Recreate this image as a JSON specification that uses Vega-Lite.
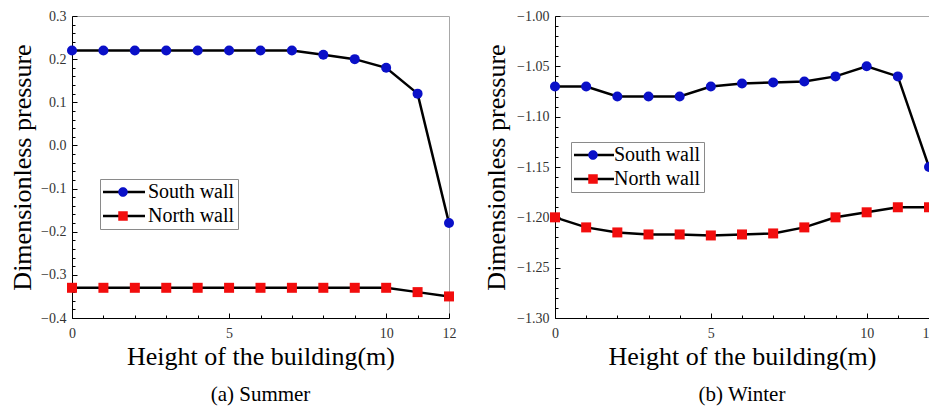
{
  "$schema": "https://vega.github.io/schema/vega-lite/v6.json",
  "padding": {"left": 8, "top": 8, "right": 0, "bottom": 0},
  "spacing": 25,
  "resolve": {
    "scale": {"color": "independent", "fill": "independent", "shape": "independent"},
    "legend": {"color": "independent", "fill": "independent", "shape": "independent"}
  },
  "config": {
    "view": {"stroke": "#a8a8a8", "strokeWidth": 1},
    "font": "Liberation Serif",
    "axis": {
      "grid": false,
      "domainColor": "black",
      "domainWidth": 1,
      "tickColor": "black",
      "tickWidth": 1,
      "labelFont": "Liberation Serif",
      "labelFontSize": 14,
      "labelColor": "#333333",
      "titleFont": "Liberation Serif",
      "titleFontSize": 26,
      "titleFontWeight": "normal",
      "titleColor": "black"
    }
  },
  "hconcat": [
    {
      "width": 377,
      "height": 302,
      "title": {"text": "(a) Summer", "orient": "bottom", "fontSize": 21, "fontWeight": "normal", "font": "Liberation Serif", "color": "black", "offset": 15},
      "data": {"values": [
        {"h": 0, "p": 0.22, "wall": "South wall"},
        {"h": 1, "p": 0.22, "wall": "South wall"},
        {"h": 2, "p": 0.22, "wall": "South wall"},
        {"h": 3, "p": 0.22, "wall": "South wall"},
        {"h": 4, "p": 0.22, "wall": "South wall"},
        {"h": 5, "p": 0.22, "wall": "South wall"},
        {"h": 6, "p": 0.22, "wall": "South wall"},
        {"h": 7, "p": 0.22, "wall": "South wall"},
        {"h": 8, "p": 0.21, "wall": "South wall"},
        {"h": 9, "p": 0.20, "wall": "South wall"},
        {"h": 10, "p": 0.18, "wall": "South wall"},
        {"h": 11, "p": 0.12, "wall": "South wall"},
        {"h": 12, "p": -0.18, "wall": "South wall"},
        {"h": 0, "p": -0.33, "wall": "North wall"},
        {"h": 1, "p": -0.33, "wall": "North wall"},
        {"h": 2, "p": -0.33, "wall": "North wall"},
        {"h": 3, "p": -0.33, "wall": "North wall"},
        {"h": 4, "p": -0.33, "wall": "North wall"},
        {"h": 5, "p": -0.33, "wall": "North wall"},
        {"h": 6, "p": -0.33, "wall": "North wall"},
        {"h": 7, "p": -0.33, "wall": "North wall"},
        {"h": 8, "p": -0.33, "wall": "North wall"},
        {"h": 9, "p": -0.33, "wall": "North wall"},
        {"h": 10, "p": -0.33, "wall": "North wall"},
        {"h": 11, "p": -0.34, "wall": "North wall"},
        {"h": 12, "p": -0.35, "wall": "North wall"}
      ]},
      "encoding": {
        "x": {
          "field": "h", "type": "quantitative",
          "scale": {"domain": [0, 12], "nice": false, "zero": false},
          "axis": {
            "title": "Height of the building(m)",
            "values": [0, 1, 2, 3, 4, 5, 6, 7, 8, 9, 10, 11, 12],
            "labelExpr": "(datum.value % 5 === 0 || datum.value === 12) ? datum.label : ''",
            "tickSize": {"condition": {"test": "datum.value % 5 === 0 || datum.value === 12", "value": -5}, "value": -3},
            "labelPadding": 13,
            "labelFlush": false,
            "minExtent": 20, "maxExtent": 20,
            "titlePadding": 5
          }
        },
        "y": {
          "field": "p", "type": "quantitative",
          "scale": {"domain": [-0.4, 0.3], "nice": false, "zero": false},
          "axis": {
            "title": "Dimensionless pressure",
            "format": ".1f",
            "values": [-0.4, -0.38, -0.36, -0.34, -0.32, -0.3, -0.28, -0.26, -0.24, -0.22, -0.2, -0.18, -0.16, -0.14, -0.12, -0.1, -0.08, -0.06, -0.04, -0.02, 0, 0.02, 0.04, 0.06, 0.08, 0.1, 0.12, 0.14, 0.16, 0.18, 0.2, 0.22, 0.24, 0.26, 0.28, 0.3],
            "labelExpr": "abs(datum.value * 10 - round(datum.value * 10)) < 1e-6 ? datum.label : ''",
            "tickSize": {"condition": {"test": "abs(datum.value * 10 - round(datum.value * 10)) < 1e-6", "value": -5}, "value": -3},
            "labelPadding": 11,
            "labelFlush": false,
            "minExtent": 32, "maxExtent": 32,
            "titlePadding": 5
          }
        }
      },
      "layer": [
        {
          "mark": {"type": "line", "strokeWidth": 2.5},
          "encoding": {
            "color": {
              "field": "wall", "type": "nominal",
              "scale": {"domain": ["South wall", "North wall"], "range": ["black", "black"]},
              "legend": {
                "orient": "none", "legendX": 28, "legendY": 163, "direction": "vertical",
                "title": null, "padding": 3, "rowPadding": 4,
                "fillColor": "white", "strokeColor": "#8a8a8a",
                "symbolType": "M-2,0H6.4", "symbolSize": 100, "symbolStrokeWidth": 2.5, "symbolStrokeColor": "black",
                "labelFont": "Liberation Serif", "labelFontSize": 20, "labelColor": "black", "labelOffset": 25
              }
            }
          }
        },
        {
          "mark": {"type": "point", "filled": true, "opacity": 1, "size": 100},
          "encoding": {
            "fill": {
              "field": "wall", "type": "nominal", "sort": ["South wall", "North wall"],
              "scale": {"range": ["#0a10c8", "#f20d0d"]},
              "legend": {
                "orient": "none", "legendX": 28, "legendY": 163, "direction": "vertical",
                "title": null, "padding": 3, "rowPadding": 4,
                "symbolSize": 100, "symbolStrokeWidth": 0, "symbolStrokeColor": "transparent", "symbolOpacity": 1,
                "labelFont": "Liberation Serif", "labelFontSize": 20, "labelColor": "transparent", "labelOffset": 25,
                "encode": {"symbols": {"update": {"shape": {"signal": "datum.value === 'South wall' ? 'M-2,0H6.4M1.05,0A0.95,0.95 0 1,0 2.95,0A0.95,0.95 0 1,0 1.05,0Z' : 'M-2,0H6.4M1.05,-0.95H2.95V0.95H1.05Z'"}}}}
              }
            },
            "shape": {
              "field": "wall", "type": "nominal", "sort": ["South wall", "North wall"],
              "scale": {"range": ["circle", "square"]},
              "legend": null
            }
          }
        }
      ]
    },
    {
      "width": 374,
      "height": 302,
      "title": {"text": "(b) Winter", "orient": "bottom", "fontSize": 21, "fontWeight": "normal", "font": "Liberation Serif", "color": "black", "offset": 15},
      "data": {"values": [
        {"h": 0, "p": -1.07, "wall": "South wall"},
        {"h": 1, "p": -1.07, "wall": "South wall"},
        {"h": 2, "p": -1.08, "wall": "South wall"},
        {"h": 3, "p": -1.08, "wall": "South wall"},
        {"h": 4, "p": -1.08, "wall": "South wall"},
        {"h": 5, "p": -1.07, "wall": "South wall"},
        {"h": 6, "p": -1.067, "wall": "South wall"},
        {"h": 7, "p": -1.066, "wall": "South wall"},
        {"h": 8, "p": -1.065, "wall": "South wall"},
        {"h": 9, "p": -1.06, "wall": "South wall"},
        {"h": 10, "p": -1.05, "wall": "South wall"},
        {"h": 11, "p": -1.06, "wall": "South wall"},
        {"h": 12, "p": -1.15, "wall": "South wall"},
        {"h": 0, "p": -1.20, "wall": "North wall"},
        {"h": 1, "p": -1.21, "wall": "North wall"},
        {"h": 2, "p": -1.215, "wall": "North wall"},
        {"h": 3, "p": -1.217, "wall": "North wall"},
        {"h": 4, "p": -1.217, "wall": "North wall"},
        {"h": 5, "p": -1.218, "wall": "North wall"},
        {"h": 6, "p": -1.217, "wall": "North wall"},
        {"h": 7, "p": -1.216, "wall": "North wall"},
        {"h": 8, "p": -1.21, "wall": "North wall"},
        {"h": 9, "p": -1.20, "wall": "North wall"},
        {"h": 10, "p": -1.195, "wall": "North wall"},
        {"h": 11, "p": -1.19, "wall": "North wall"},
        {"h": 12, "p": -1.19, "wall": "North wall"}
      ]},
      "encoding": {
        "x": {
          "field": "h", "type": "quantitative",
          "scale": {"domain": [0, 12], "nice": false, "zero": false},
          "axis": {
            "title": "Height of the building(m)",
            "values": [0, 1, 2, 3, 4, 5, 6, 7, 8, 9, 10, 11, 12],
            "labelExpr": "(datum.value % 5 === 0 || datum.value === 12) ? datum.label : ''",
            "tickSize": {"condition": {"test": "datum.value % 5 === 0 || datum.value === 12", "value": -5}, "value": -3},
            "labelPadding": 13,
            "labelFlush": false,
            "minExtent": 20, "maxExtent": 20,
            "titlePadding": 5
          }
        },
        "y": {
          "field": "p", "type": "quantitative",
          "scale": {"domain": [-1.3, -1.0], "nice": false, "zero": false},
          "axis": {
            "title": "Dimensionless pressure",
            "format": ".2f",
            "values": [-1.3, -1.29, -1.28, -1.27, -1.26, -1.25, -1.24, -1.23, -1.22, -1.21, -1.2, -1.19, -1.18, -1.17, -1.16, -1.15, -1.14, -1.13, -1.12, -1.11, -1.1, -1.09, -1.08, -1.07, -1.06, -1.05, -1.04, -1.03, -1.02, -1.01, -1.0],
            "labelExpr": "abs(datum.value * 20 - round(datum.value * 20)) < 1e-6 ? datum.label : ''",
            "tickSize": {"condition": {"test": "abs(datum.value * 20 - round(datum.value * 20)) < 1e-6", "value": -5}, "value": -3},
            "labelPadding": 11,
            "labelFlush": false,
            "minExtent": 40, "maxExtent": 40,
            "titlePadding": 6
          }
        }
      },
      "layer": [
        {
          "mark": {"type": "line", "strokeWidth": 2.5},
          "encoding": {
            "color": {
              "field": "wall", "type": "nominal",
              "scale": {"domain": ["South wall", "North wall"], "range": ["black", "black"]},
              "legend": {
                "orient": "none", "legendX": 16, "legendY": 126, "direction": "vertical",
                "title": null, "padding": 3, "rowPadding": 4,
                "fillColor": "white", "strokeColor": "#8a8a8a",
                "symbolType": "M-2,0H6.0", "symbolSize": 100, "symbolStrokeWidth": 2.5, "symbolStrokeColor": "black",
                "labelFont": "Liberation Serif", "labelFontSize": 20, "labelColor": "black", "labelOffset": 20
              }
            }
          }
        },
        {
          "mark": {"type": "point", "filled": true, "opacity": 1, "size": 100},
          "encoding": {
            "fill": {
              "field": "wall", "type": "nominal", "sort": ["South wall", "North wall"],
              "scale": {"range": ["#0a10c8", "#f20d0d"]},
              "legend": {
                "orient": "none", "legendX": 16, "legendY": 126, "direction": "vertical",
                "title": null, "padding": 3, "rowPadding": 4,
                "symbolSize": 100, "symbolStrokeWidth": 0, "symbolStrokeColor": "transparent", "symbolOpacity": 1,
                "labelFont": "Liberation Serif", "labelFontSize": 20, "labelColor": "transparent", "labelOffset": 20,
                "encode": {"symbols": {"update": {"shape": {"signal": "datum.value === 'South wall' ? 'M-2,0H6.0M0.85,0A0.95,0.95 0 1,0 2.75,0A0.95,0.95 0 1,0 0.85,0Z' : 'M-2,0H6.0M0.85,-0.95H2.75V0.95H0.85Z'"}}}}
              }
            },
            "shape": {
              "field": "wall", "type": "nominal", "sort": ["South wall", "North wall"],
              "scale": {"range": ["circle", "square"]},
              "legend": null
            }
          }
        }
      ]
    }
  ]
}
